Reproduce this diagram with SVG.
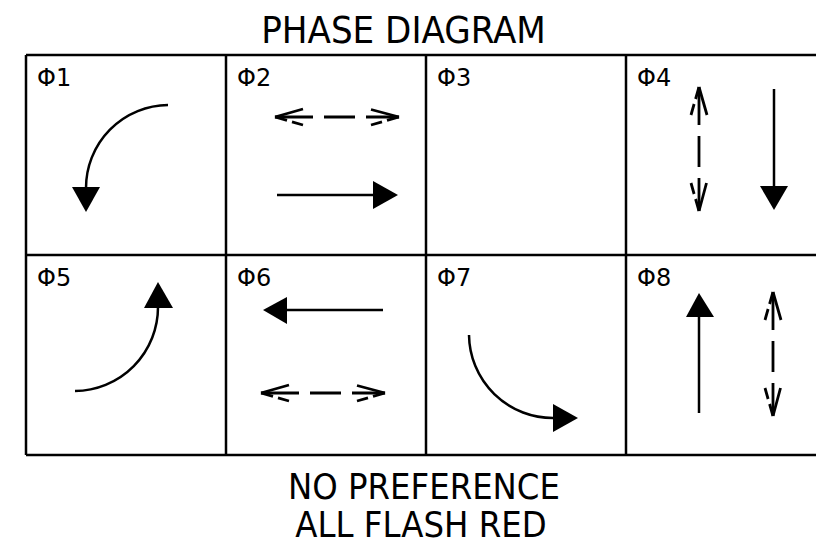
<svg xmlns="http://www.w3.org/2000/svg" xmlns:xlink="http://www.w3.org/1999/xlink" width="816" height="554" viewBox="0 0 816 554">
<style>
.grid{stroke:#000;stroke-width:2.5;fill:none}
.ln{stroke:#000;stroke-width:2.5;fill:none}
.ds{stroke:#000;stroke-width:2.8;fill:none;stroke-linecap:butt}
.hd{fill:#000;stroke:none}
.lbl{font-family:"DejaVu Sans",sans-serif;font-size:24px;fill:#000}
.big{font-family:"DejaVu Sans Condensed","DejaVu Sans",sans-serif;fill:#000;text-anchor:middle}
</style>
<defs>
<g id="dash2">
<path class="ds" d="M0,0H38M49,0H80M91,0H124"/>
<path class="ds" d="M0,0L28,-8M0,0L12,3.4M17,4.9L28,8"/>
<path class="ds" d="M124,0L96,-7.5M124,0L112,3.4M107,4.9L96,8"/>
</g>
</defs>
<rect width="816" height="554" fill="#fff"/>
<text class="big" x="403.5" y="43" font-size="38">PHASE DIAGRAM</text>
<g id="grid">
<path class="grid" d="M26,55H816M26,255H816M26,455H816M26,55V455M226,55V455M426,55V455M626,55V455"/>
</g>
<g id="phase1">
<text class="lbl" x="37" y="86">Φ1</text>
<path class="ln" d="M168,105A83,83 0 0 0 86,188"/>
<polygon class="hd" points="72,187 100,187 86,212"/>
</g>
<g id="phase2">
<text class="lbl" x="237" y="86">Φ2</text>
<use xlink:href="#dash2" transform="translate(275,117)"/>
<path class="ln" d="M277,195H374"/>
<polygon class="hd" points="373,181 373,209 398,195"/>
</g>
<g id="phase3">
<text class="lbl" x="437" y="86">Φ3</text>
</g>
<g id="phase4">
<text class="lbl" x="637" y="86">Φ4</text>
<use xlink:href="#dash2" transform="translate(699,87) rotate(90)"/>
<path class="ln" d="M774,89V187"/>
<polygon class="hd" points="760,186 788,186 774,210"/>
</g>
<g id="phase5">
<text class="lbl" x="37" y="286">Φ5</text>
<path class="ln" d="M75,391A84,84 0 0 0 158,307"/>
<polygon class="hd" points="144,308 173,308 158,282"/>
</g>
<g id="phase6">
<text class="lbl" x="237" y="286">Φ6</text>
<path class="ln" d="M383,310H285"/>
<polygon class="hd" points="287,297 287,324 263,310"/>
<use xlink:href="#dash2" transform="translate(261,393)"/>
</g>
<g id="phase7">
<text class="lbl" x="437" y="286">Φ7</text>
<path class="ln" d="M469,335A84,84 0 0 0 554,418"/>
<polygon class="hd" points="553,404 553,432 578,418"/>
</g>
<g id="phase8">
<text class="lbl" x="637" y="286">Φ8</text>
<path class="ln" d="M699,413V316"/>
<polygon class="hd" points="686,317 714,317 699,293"/>
<use xlink:href="#dash2" transform="translate(773,292) rotate(90)"/>
</g>
<text class="big" x="424" y="499" font-size="36">NO PREFERENCE</text>
<text class="big" x="421" y="537" font-size="36">ALL FLASH RED</text>
</svg>
